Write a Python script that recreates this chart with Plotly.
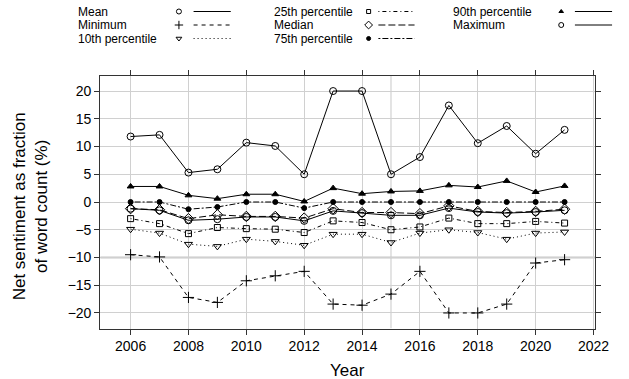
import plotly.graph_objects as go

# ---- data -------------------------------------------------------------
years = list(range(2006, 2022))

mean_vals = [-1.2, -1.5, -3.3, -3.1, -2.7, -2.7, -3.4, -1.6, -2.0, -2.4, -2.4, -1.1, -1.8, -2.0, -1.8, -1.5]
min_vals = [-9.5, -9.9, -17.2, -18.1, -14.2, -13.3, -12.5, -18.4, -18.6, -16.6, -12.5, -20.0, -20.0, -18.4, -11.0, -10.4]
p10_vals = [-4.9, -5.6, -7.6, -8.0, -6.7, -7.1, -7.8, -5.8, -5.8, -7.3, -5.6, -5.0, -5.5, -6.7, -5.6, -5.4]
p25_vals = [-3.0, -3.9, -5.7, -4.6, -4.8, -4.9, -5.5, -3.4, -3.7, -5.0, -4.5, -2.9, -3.9, -3.9, -3.5, -3.8]
median_vals = [-1.2, -1.4, -3.0, -2.3, -2.6, -2.6, -2.9, -1.2, -1.9, -1.9, -2.1, -0.7, -1.7, -1.9, -1.7, -1.3]
p75_vals = [0.0, 0.0, -1.3, -0.9, 0.0, 0.0, -1.1, 0.0, 0.0, 0.0, 0.0, 0.0, 0.0, 0.0, 0.0, 0.0]
p90_vals = [2.8, 2.8, 1.2, 0.6, 1.4, 1.4, 0.1, 2.5, 1.5, 1.9, 2.0, 3.0, 2.7, 3.8, 1.8, 2.9]
max_vals = [11.8, 12.1, 5.3, 5.9, 10.7, 10.1, 5.0, 20.0, 20.0, 5.0, 8.1, 17.4, 10.6, 13.7, 8.7, 13.0]

series_names = ["Mean", "Minimum", "10th percentile", "25th percentile",
                "Median", "75th percentile", "90th percentile", "Maximum"]
series_values = [mean_vals, min_vals, p10_vals, p25_vals,
                 median_vals, p75_vals, p90_vals, max_vals]

x_ticks = list(range(2006, 2023, 2))
y_ticks = list(range(-20, 21, 5))

# ---- styling ------------------------------------------------------------
FONT = "Liberation Sans, Arial, Helvetica, sans-serif"
W, H = 629, 379
styles = {
    "Mean":            dict(symbol="circle-open",        dash="solid",            size=7),
    "Minimum":         dict(symbol="cross-thin-open",    dash="4px,4px",          size=8),
    "10th percentile": dict(symbol="triangle-down-open", dash="1px,3px",          size=7),
    "25th percentile": dict(symbol="square-open",        dash="1px,3px,4px,3px",  size=6),
    "Median":          dict(symbol="diamond-open",       dash="7px,3px",          size=8),
    "75th percentile": dict(symbol="circle",             dash="2px,2px,6px,2px",  size=5),
    "90th percentile": dict(symbol="triangle-up",        dash="solid",            size=6),
    "Maximum":         dict(symbol="circle-open",        dash="solid",            size=7),
}

# panel placement in pixels
px_left, px_right, px_top, px_bottom = 102.5, 608.5, 75.5, 328.5

fig = go.Figure()

for name, vals in zip(series_names, series_values):
    st = styles[name]
    fig.add_trace(go.Scatter(
        x=years, y=vals, mode="lines+markers", name=name,
        line=dict(color="black", width=1, dash=st["dash"]),
        marker=dict(symbol=st["symbol"], size=st["size"], color="black",
                    line=dict(color="black", width=1)),
        xaxis="x", yaxis="y", showlegend=False, cliponaxis=False,
    ))

# ---- key drawn in a full-page pixel frame ----------------------------
col_text_x = [80, 280, 463]
col_sym_x = [183, 377, 574]
col_line_x = [(198, 236), (387, 424), (588, 626)]
row_y = [11.5, 25, 38.5]

annotations = []
for i, name in enumerate(series_names):
    c, r = i // 3, i % 3
    st = styles[name]
    y = row_y[r]
    annotations.append(dict(
        x=col_text_x[c], y=y, xref="x2", yref="y2", text=name,
        showarrow=False, xanchor="left", yanchor="middle",
        borderpad=0, borderwidth=0,
        font=dict(family=FONT, size=12, color="black")))
    fig.add_trace(go.Scatter(
        x=[col_sym_x[c]], y=[y], mode="markers", xaxis="x2", yaxis="y2",
        marker=dict(symbol=st["symbol"], size=max(st["size"] - 2, 4), color="black",
                    line=dict(color="black", width=1)),
        showlegend=False, hoverinfo="skip", cliponaxis=False))
    x0, x1 = col_line_x[c]
    fig.add_trace(go.Scatter(
        x=[x0, x1], y=[y, y], mode="lines", xaxis="x2", yaxis="y2",
        line=dict(color="black", width=1, dash=st["dash"]),
        showlegend=False, hoverinfo="skip", cliponaxis=False))

# axis titles
annotations.append(dict(
    x=(px_left + px_right) / 2, y=370, xref="x2", yref="y2", text="Year",
    showarrow=False, xanchor="center", yanchor="middle",
    font=dict(family=FONT, size=17, color="black")))
annotations.append(dict(
    x=31, y=206, xref="x2", yref="y2",
    text="Net sentiment as fraction<br>of word count (%)", textangle=-90,
    showarrow=False, xanchor="center", yanchor="middle",
    font=dict(family=FONT, size=17, color="black")))

# extra reference lines in the panel
shapes = [
    dict(type="line", xref="x", yref="y", x0=2015, x1=2015, y0=-22.8, y1=22.8,
         line=dict(color="#c8c8c8", width=1), layer="below"),
    dict(type="line", xref="x", yref="y", x0=2004.95, x1=2022.05, y0=-10, y1=-10,
         line=dict(color="#c8c8c8", width=2), layer="below"),
]

fig.update_layout(
    width=W, height=H,
    margin=dict(l=0, r=0, t=0, b=0),
    paper_bgcolor="white", plot_bgcolor="rgba(0,0,0,0)",
    font=dict(family=FONT, size=14, color="black"),
    showlegend=False,
    annotations=annotations,
    shapes=shapes,
    xaxis=dict(
        domain=[px_left / W, px_right / W], range=[2004.95, 2022.05],
        tickvals=x_ticks, ticks="outside", ticklen=5, tickcolor="#333",
        showline=True, linecolor="#333", linewidth=1, mirror="ticks",
        showgrid=True, gridcolor="#d0d0d0", gridwidth=1, zeroline=False,
        tickfont=dict(family=FONT, size=14, color="black"), anchor="y",
    ),
    yaxis=dict(
        domain=[1 - px_bottom / H, 1 - px_top / H], range=[-22.8, 22.8],
        tickvals=y_ticks, ticks="outside", ticklen=5, tickcolor="#333",
        showline=True, linecolor="#333", linewidth=1, mirror="ticks",
        showgrid=True, gridcolor="#d0d0d0", gridwidth=1, zeroline=False,
        tickfont=dict(family=FONT, size=14, color="black"), anchor="x",
    ),
    xaxis2=dict(domain=[0, 1], range=[0, W], visible=False, anchor="y2",
                fixedrange=True),
    yaxis2=dict(domain=[0, 1], range=[H, 0], visible=False, anchor="x2",
                fixedrange=True),
)

fig.write_html("out.html")
